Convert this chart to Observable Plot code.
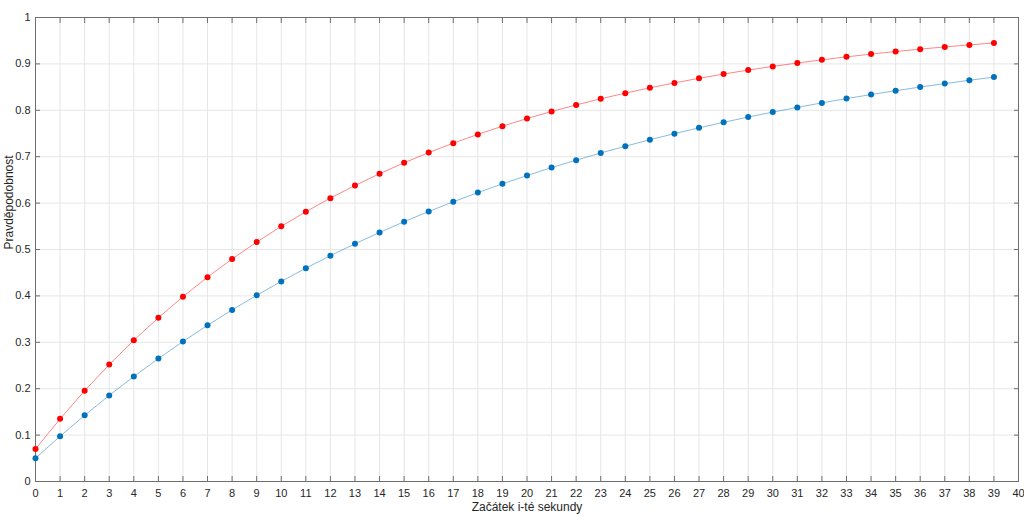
<!DOCTYPE html>
<html><head><meta charset="utf-8">
<script src="https://cdn.jsdelivr.net/npm/d3@7"></script>
<script src="https://cdn.jsdelivr.net/npm/@observablehq/plot@0.6"></script>
<style>
body{margin:0;background:#fff;font-family:"Liberation Sans",Arial,sans-serif;}
#title{position:absolute;left:35px;width:983px;top:2px;text-align:center;font-weight:bold;font-size:12px;color:#000;}
#chart{position:absolute;left:0;top:0;}
</style></head>
<body>
<div id="title">Pst, že se mi do začátku i-té sekundy (včetně) nahodí crit</div>
<div id="chart"></div>
<script>
const seconds = d3.range(0, 40);
const redValues = [0.0700,0.1351,0.1956,0.2519,0.3043,0.3530,0.3983,0.4404,0.4796,0.5160,0.5499,0.5814,0.6107,0.6380,0.6633,0.6869,0.7088,0.7292,0.7481,0.7658,0.7822,0.7974,0.8116,0.8248,0.8370,0.8484,0.8591,0.8689,0.8781,0.8866,0.8946,0.9019,0.9088,0.9152,0.9211,0.9267,0.9318,0.9366,0.9410,0.9451];
const blueValues = [0.0500,0.0975,0.1426,0.1855,0.2262,0.2649,0.3017,0.3366,0.3698,0.4013,0.4312,0.4596,0.4867,0.5123,0.5367,0.5599,0.5819,0.6028,0.6226,0.6415,0.6594,0.6765,0.6926,0.7080,0.7226,0.7365,0.7497,0.7622,0.7741,0.7854,0.7961,0.8063,0.8160,0.8252,0.8339,0.8422,0.8501,0.8576,0.8647,0.8715];
const xTicks = d3.range(0, 41);
const yTicks = [0,0.1,0.2,0.3,0.4,0.5,0.6,0.7,0.8,0.9,1];
const yTickLabels = ["0","0.1","0.2","0.3","0.4","0.5","0.6","0.7","0.8","0.9","1"];
const xLabel = "Začátek i-té sekundy";
const yLabel = "Pravděpodobnost";

const red = seconds.map((s,i)=>({x:s,y:redValues[i]}));
const blue = seconds.map((s,i)=>({x:s,y:blueValues[i]}));
const axisColor = "#6e6e6e";

const plot = Plot.plot({
  width: 1024, height: 514,
  marginLeft: 35, marginRight: 6, marginTop: 17, marginBottom: 33,
  style: {fontFamily: '"Liberation Sans", Arial, sans-serif', fontSize: "11px", color: "#262626", background: "#fff"},
  x: {domain: [0, 40]},
  y: {domain: [0, 1]},
  marks: [
    Plot.gridX(xTicks, {stroke: "#e6e6e6", strokeOpacity: 1}),
    Plot.gridY(yTicks, {stroke: "#e6e6e6", strokeOpacity: 1}),
    Plot.axisX(xTicks, {tickSize: 0, tickPadding: 8, label: null, fill: "#262626"}),
    Plot.axisX(xTicks, {tickSize: -5, text: null, label: null, stroke: axisColor}),
    Plot.axisX(xTicks, {anchor: "top", tickSize: -5, text: null, label: null, stroke: axisColor}),
    Plot.axisY(yTicks, {tickSize: 0, tickPadding: 5, tickFormat: (d,i)=>yTickLabels[i], label: null, fill: "#262626"}),
    Plot.axisY(yTicks, {tickSize: -5, text: null, label: null, stroke: axisColor}),
    Plot.axisY(yTicks, {anchor: "right", tickSize: -5, text: null, label: null, stroke: axisColor}),
    Plot.frame({stroke: axisColor}),
    Plot.text([xLabel], {frameAnchor: "bottom", lineAnchor: "middle", dy: 26, fontSize: 12, fill: "#262626"}),
    Plot.text([yLabel], {frameAnchor: "left", dx: -26, rotate: -90, fontSize: 12, fill: "#262626"}),
    Plot.line(red, {x: "x", y: "y", stroke: "#ff0000", strokeWidth: 0.8, strokeOpacity: 0.6}),
    Plot.line(blue, {x: "x", y: "y", stroke: "#0072bd", strokeWidth: 0.8, strokeOpacity: 0.6}),
    Plot.dot(red, {x: "x", y: "y", r: 3, fill: "#ff0000"}),
    Plot.dot(blue, {x: "x", y: "y", r: 3, fill: "#0072bd"})
  ]
});
document.getElementById("chart").appendChild(plot);
</script>
</body></html>
